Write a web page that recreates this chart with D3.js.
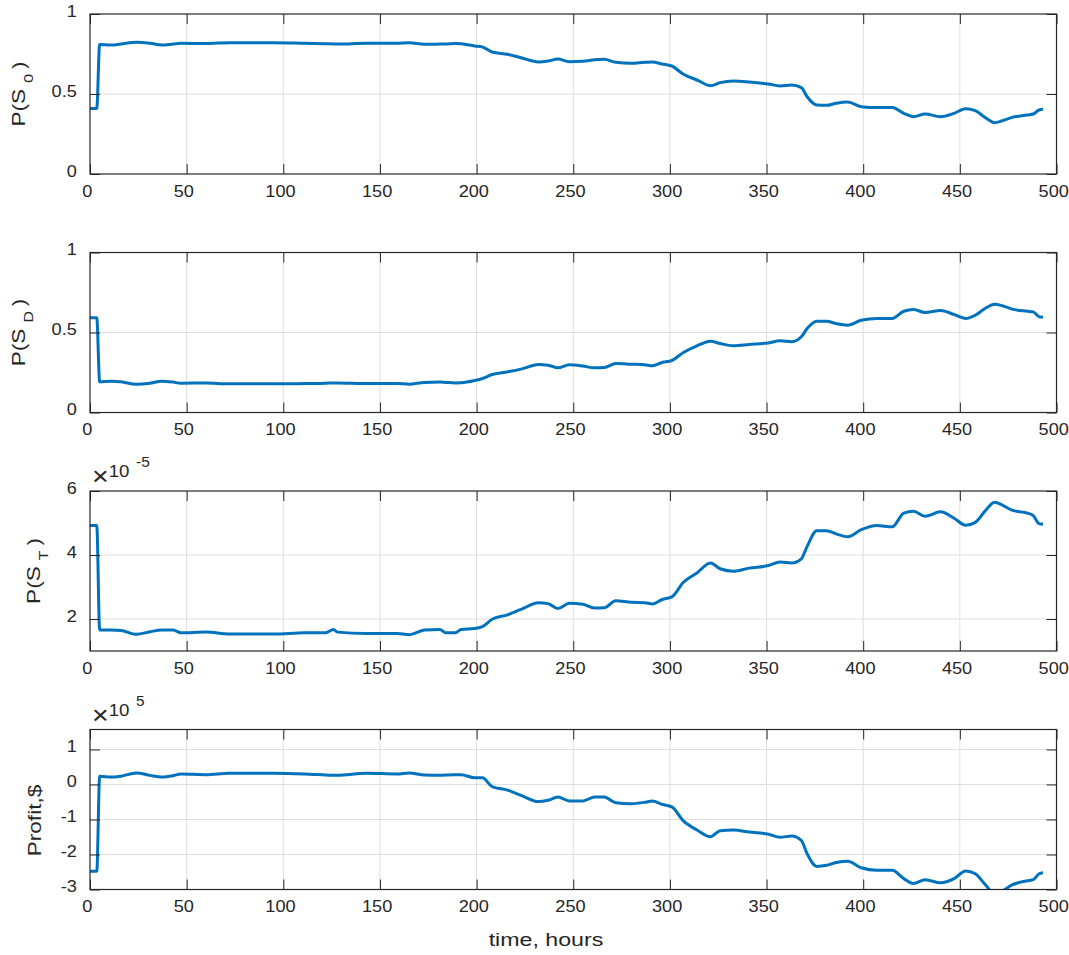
<!DOCTYPE html>
<html>
<head>
<meta charset="utf-8">
<script src="https://cdn.jsdelivr.net/npm/d3@7"></script>
<style>
  body { margin: 0; background: #fff; }
  svg text { font-family: "Liberation Sans", Arial, sans-serif; fill: #262626; }
</style>
</head>
<body>
<svg id="chart" width="1069" height="955"></svg>
<script>
// Simulation time axis (hours)
const hours = [
  0, 3.5, 5, 11, 16, 24, 31, 37, 43, 47,
  60, 72, 95, 111, 122, 126, 128, 143, 159, 165,
  173, 181, 184, 189, 192, 199, 203, 208, 216, 223,
  232, 237, 242, 248, 255, 261, 266, 272, 280, 287,
  291, 296, 301, 307, 314, 321, 326, 333, 341, 351,
  357, 363, 368, 371, 376, 381, 386, 392, 399, 407,
  415, 421, 426, 432, 440, 447, 453, 458, 463, 468,
  472, 477, 485, 488, 491, 493
];

// State probability P(S_0)
const pS0 = [
  0.41, 0.41, 0.81, 0.806, 0.8125, 0.823, 0.817, 0.806, 0.812, 0.817,
  0.815, 0.821, 0.821, 0.817, 0.814, 0.8125, 0.812, 0.817, 0.817, 0.821,
  0.811, 0.812, 0.8125, 0.815, 0.814, 0.80, 0.794, 0.7625, 0.748, 0.727,
  0.70, 0.706, 0.719, 0.702, 0.704, 0.714, 0.717, 0.698, 0.692, 0.698,
  0.70, 0.6875, 0.675, 0.623, 0.5875, 0.552, 0.571, 0.581, 0.575, 0.5625,
  0.55, 0.556, 0.54, 0.483, 0.431, 0.429, 0.442, 0.45, 0.421, 0.415,
  0.415, 0.379, 0.358, 0.375, 0.358, 0.379, 0.408, 0.396, 0.354, 0.321,
  0.333, 0.354, 0.369, 0.375, 0.40, 0.404
];

// State probability P(S_D)
const pSD = [
  0.592, 0.592, 0.192, 0.196, 0.192, 0.177, 0.183, 0.196, 0.19, 0.183,
  0.185, 0.179, 0.179, 0.181, 0.183, 0.185, 0.185, 0.181, 0.181, 0.177,
  0.188, 0.19, 0.188, 0.185, 0.186, 0.20, 0.2125, 0.2375, 0.254, 0.271,
  0.30, 0.296, 0.279, 0.298, 0.29, 0.279, 0.281, 0.306, 0.302, 0.298,
  0.292, 0.3125, 0.325, 0.375, 0.417, 0.446, 0.431, 0.417, 0.425, 0.435,
  0.448, 0.442, 0.473, 0.525, 0.571, 0.571, 0.556, 0.546, 0.577, 0.5875,
  0.5875, 0.633, 0.644, 0.625, 0.6375, 0.6125, 0.5875, 0.608, 0.65, 0.677,
  0.667, 0.646, 0.633, 0.629, 0.598, 0.595
];

// State probability P(S_T), in units of 1e-5
const pST = [
  4.92, 4.92, 1.655, 1.655, 1.64, 1.52, 1.6, 1.655, 1.655, 1.57,
  1.59, 1.53, 1.53, 1.57, 1.57, 1.675, 1.59, 1.55, 1.55, 1.51,
  1.655, 1.675, 1.57, 1.57, 1.675, 1.70, 1.76, 1.99, 2.13, 2.30,
  2.51, 2.48, 2.33, 2.49, 2.46, 2.34, 2.35, 2.57, 2.52, 2.51,
  2.47, 2.61, 2.69, 3.15, 3.44, 3.75, 3.57, 3.49, 3.59, 3.67,
  3.78, 3.75, 3.88, 4.27, 4.76, 4.76, 4.66, 4.57, 4.79, 4.92,
  4.88, 5.31, 5.37, 5.21, 5.35, 5.15, 4.93, 5.02, 5.37, 5.65,
  5.56, 5.40, 5.31, 5.23, 4.98, 4.96
];

// Profit in dollars, in units of 1e5
const profit = [
  -2.48, -2.48, 0.236, 0.21, 0.236, 0.33, 0.26, 0.21, 0.25, 0.30,
  0.28, 0.32, 0.32, 0.30, 0.27, 0.26, 0.26, 0.32, 0.30, 0.33,
  0.27, 0.26, 0.27, 0.28, 0.28, 0.19, 0.19, -0.06, -0.16, -0.31,
  -0.49, -0.45, -0.36, -0.47, -0.47, -0.36, -0.36, -0.52, -0.55, -0.51,
  -0.47, -0.57, -0.64, -1.04, -1.30, -1.49, -1.32, -1.30, -1.36, -1.42,
  -1.51, -1.47, -1.60, -1.98, -2.34, -2.31, -2.23, -2.19, -2.38, -2.45,
  -2.45, -2.69, -2.83, -2.72, -2.81, -2.69, -2.47, -2.55, -2.85, -3.12,
  -3.04, -2.87, -2.75, -2.72, -2.55, -2.52
];

// Axis ticks
const xTicks = [0, 50, 100, 150, 200, 250, 300, 350, 400, 450, 500];
const probTicks = [0, 0.5, 1];
const stTicks = [2, 4, 6];
const profitTicks = [-3, -2, -1, 0, 1];

// Panel definitions built from the arrays above
const panels = [
  { values: pS0,    domain: [0, 1],     ticks: probTicks,   label: ["P(S", "0", ")"], labelX: 25, exponent: null },
  { values: pSD,    domain: [0, 1],     ticks: probTicks,   label: ["P(S", "D", ")"], labelX: 25, exponent: null },
  { values: pST,    domain: [1, 6],     ticks: stTicks,     label: ["P(S", "T", ")"], labelX: 40, exponent: "-5" },
  { values: profit, domain: [-3, 1.57], ticks: profitTicks, label: ["Profit,$"],      labelX: 41, exponent: "5", labelShift: 11 }
];

const left = 90, right = 1056.5;
const panelTop0 = 14, panelH = 160, panelStep = 238.5;
const lineColor = "#0072BD", axisColor = "#262626", gridColor = "#dedede";
const tickStretch = "scale(1.1,1)";   // wide lettering of the tick labels
const labelStretch = 1.22;            // wide lettering of the axis titles

const svg = d3.select("#chart");
const x = d3.scaleLinear().domain([0, 500]).range([left, right]);

panels.forEach((p, i) => {
  const top = panelTop0 + i * panelStep;
  const bottom = top + panelH;
  const y = d3.scaleLinear().domain(p.domain).range([bottom, top]);
  const g = svg.append("g");

  // clip area for the series
  const clipId = "clip" + i;
  svg.append("clipPath").attr("id", clipId)
    .append("rect").attr("x", left).attr("y", top)
    .attr("width", right - left).attr("height", panelH);

  // grid lines
  g.append("g").selectAll("line").data(xTicks.slice(1, -1)).join("line")
    .attr("x1", d => x(d)).attr("x2", d => x(d))
    .attr("y1", top).attr("y2", bottom)
    .attr("stroke", gridColor).attr("stroke-width", 1);
  g.append("g").selectAll("line").data(p.ticks.filter(t => y(t) > top + 0.5 && y(t) < bottom - 0.5)).join("line")
    .attr("x1", left).attr("x2", right)
    .attr("y1", d => y(d)).attr("y2", d => y(d))
    .attr("stroke", gridColor).attr("stroke-width", 1);

  // series line
  const line = d3.line().x((d, k) => x(hours[k])).y(d => y(d)).curve(d3.curveMonotoneX);
  g.append("path").datum(p.values)
    .attr("clip-path", `url(#${clipId})`)
    .attr("d", line)
    .attr("fill", "none")
    .attr("stroke", lineColor)
    .attr("stroke-width", 3)
    .attr("stroke-linejoin", "round");

  // axes with inward ticks
  const xb = g.append("g").attr("transform", `translate(0,${bottom})`)
    .call(d3.axisBottom(x).tickValues(xTicks).tickSizeInner(-10).tickSizeOuter(0).tickPadding(11).tickFormat(d3.format("d")));
  const xt = g.append("g").attr("transform", `translate(0,${top})`)
    .call(d3.axisTop(x).tickValues(xTicks).tickSizeInner(-10).tickSizeOuter(0).tickFormat(""));
  const yl = g.append("g").attr("transform", `translate(${left},0)`)
    .call(d3.axisLeft(y).tickValues(p.ticks).tickSizeInner(-10).tickSizeOuter(0).tickPadding(12).tickFormat(d => String(d)));
  const yr = g.append("g").attr("transform", `translate(${right},0)`)
    .call(d3.axisRight(y).tickValues(p.ticks).tickSizeInner(-10).tickSizeOuter(0).tickFormat(""));

  [xb, xt, yl, yr].forEach(a => {
    a.select(".domain").remove();
    a.selectAll(".tick line").attr("stroke", axisColor).attr("stroke-width", 1);
    a.selectAll(".tick text")
      .attr("fill", axisColor)
      .attr("transform", tickStretch)
      .style("font-size", "16.5px")
      .style("font-family", "'Liberation Sans', Arial, sans-serif");
  });
  xb.selectAll(".tick text").attr("x", -3);
  yl.selectAll(".tick text").attr("dy", "0.14em");

  // axes box
  g.append("rect").attr("x", left).attr("y", top)
    .attr("width", right - left).attr("height", panelH)
    .attr("fill", "none").attr("stroke", axisColor).attr("stroke-width", 1.2);

  // y label (rotated), with subscript where present
  const cy = (top + bottom) / 2 + (p.labelShift || 0);
  const lab = g.append("text")
    .attr("transform", `translate(${p.labelX},${cy}) rotate(-90) scale(${labelStretch},1)`)
    .attr("text-anchor", "middle")
    .style("font-size", "18.5px");
  lab.append("tspan").text(p.label[0]);
  if (p.label.length > 1) {
    lab.append("tspan").attr("dx", 5).attr("dy", 8).style("font-size", "13px").text(p.label[1]);
    lab.append("tspan").attr("dx", 4).attr("dy", -8).text(p.label[2]);
  }

  // exponent multiplier above the axes
  if (p.exponent) {
    const ex = g.append("text")
      .attr("transform", `translate(${left + 2},${top - 6}) scale(1.1,1)`)
      .style("font-size", "26px");
    ex.append("tspan").text("\u00D7");
    ex.append("tspan").attr("dx", 0).attr("dy", -8).style("font-size", "17px").text("10");
    ex.append("tspan").attr("dx", 6).attr("dy", -10).style("font-size", "14px").text(p.exponent);
  }
});

// shared x label
svg.append("text")
  .attr("transform", `translate(546,946) scale(${labelStretch},1)`)
  .attr("text-anchor", "middle")
  .style("font-size", "19px")
  .text("time, hours");
</script>
</body>
</html>
